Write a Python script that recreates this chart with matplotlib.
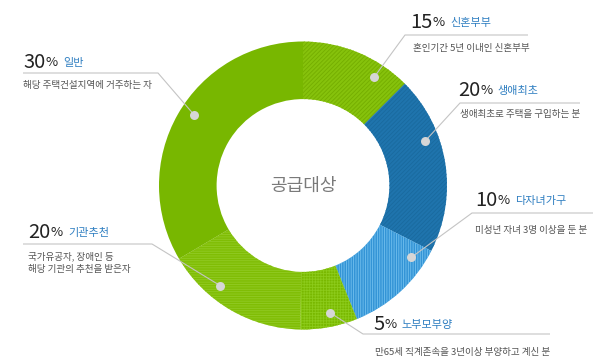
import numpy as np
import matplotlib
matplotlib.use("Agg")
import matplotlib.pyplot as plt

plt.rcParams['font.family'] = ['Noto Sans CJK KR', 'DejaVu Sans']
plt.rcParams['hatch.linewidth'] = 0.6

# ---- data ----
categories = ['신혼부부', '생애최초', '다자녀가구', '노부모부양', '기관추천', '일반']
share_labels = [15, 20, 10, 5, 20, 30]          # printed percentages
slice_sizes = [12.5, 20.0, 11.4, 6.4, 16.2, 33.5]  # ring sizes as drawn in the picture
descriptions = [
    '혼인기간 5년 이내인 신혼부부',
    '생애최초로 주택을 구입하는 분',
    '미성년 자녀 3명 이상을 둔 분',
    '만65세 직계존속을 3년이상 부양하고 계신 분',
    '국가유공자, 장애인 등\n해당 기관의 추천을 받은자',
    '해당 주택건설지역에 거주하는 자',
]
center_title = '공급대상'

# ---- styles ----
face_colors = ['#86c20c', '#1f74ad', '#3394d6', '#79b800', '#80bd05', '#78b700']
hatch_colors = ['#74ad00', '#196a9f', '#72c0ee', '#8ccb1a', '#92cb25', '#78b700']
hatches = ['////////', '////////', '|||||||', '++++++', '-------', None]

W, H = 600, 364
fig = plt.figure(figsize=(6.0, 3.64), dpi=100)
ax = fig.add_axes([0, 0, 1, 1])

def P(x, y):
    return (x, H - y)

cx, cy = P(303, 185.5)
R = 144
width = 0.40

wedges, _ = ax.pie(slice_sizes, center=(cx, cy), radius=R, startangle=90,
                   counterclock=False, frame=True,
                   wedgeprops=dict(width=R * width, linewidth=0))
for w, fc, hc, hp in zip(wedges, face_colors, hatch_colors, hatches):
    w.set_facecolor(fc)
    w.set_edgecolor(hc)
    w.set_linewidth(0)
    if hp:
        w.set_hatch(hp)

ax.set_xlim(0, W)
ax.set_ylim(0, H)
ax.set_aspect('auto')
ax.axis('off')

ax.text(cx, cy, center_title, ha='center', va='center', fontsize=13,
        color='#7a7a7a')

# ---- annotations (layout) ----
dot_angles = [33.3, 70, 123.6, 168, 219.7, 303]
dot_r = 130
line_color = '#c4c4c4'
# (elbow x, elbow y, end x) for each leader line in image pixels
leaders = [
    (405, 35, 528),
    (460, 103, 580),
    (472, 213, 593),
    (363, 334, 550),
    (152, 244, 23),
    (158, 73, 23),
]
# title anchor: (x of number, y centre), desc anchor (x, y)
title_pos = [(410, 22), (458, 90), (475, 200), (373, 324), (28, 232), (23, 62)]
desc_pos = [(413, 48), (460, 115), (475, 230), (375, 352), (28, 263), (23, 85)]

for i in range(len(categories)):
    a = np.deg2rad(dot_angles[i])
    dx = cx + dot_r * np.sin(a)
    dy = cy + dot_r * np.cos(a)
    ex, ey, endx = leaders[i]
    ex, ey = P(ex, ey)
    ax.plot([dx, ex, endx], [dy, ey, ey], color=line_color, lw=0.8,
            solid_capstyle='butt', zorder=3)
    ax.scatter([dx], [dy], s=42, color='#d6d6d6', zorder=4, linewidths=0)

    tx, ty = P(*title_pos[i])
    t1 = ax.text(tx, ty, str(share_labels[i]), ha='left', va='center',
                 fontsize=14.5, color='#222222', fontweight='light')
    fig.canvas.draw()
    bb = t1.get_window_extent()
    x2 = bb.x1
    t2 = ax.text(x2 + 0.5, ty - 1, '%', ha='left', va='center', fontsize=9.5,
                 color='#222222', fontweight='light')
    bb2 = t2.get_window_extent()
    ax.text(bb2.x1 + 5, ty - 1, categories[i], ha='left', va='center',
            fontsize=8, color='#2f7fc1')

    qx, qy = P(*desc_pos[i])
    ax.text(qx, qy, descriptions[i], ha='left', va='center', fontsize=6.9,
            color='#555555', linespacing=1.6)

fig.savefig('out.png', dpi=100)
